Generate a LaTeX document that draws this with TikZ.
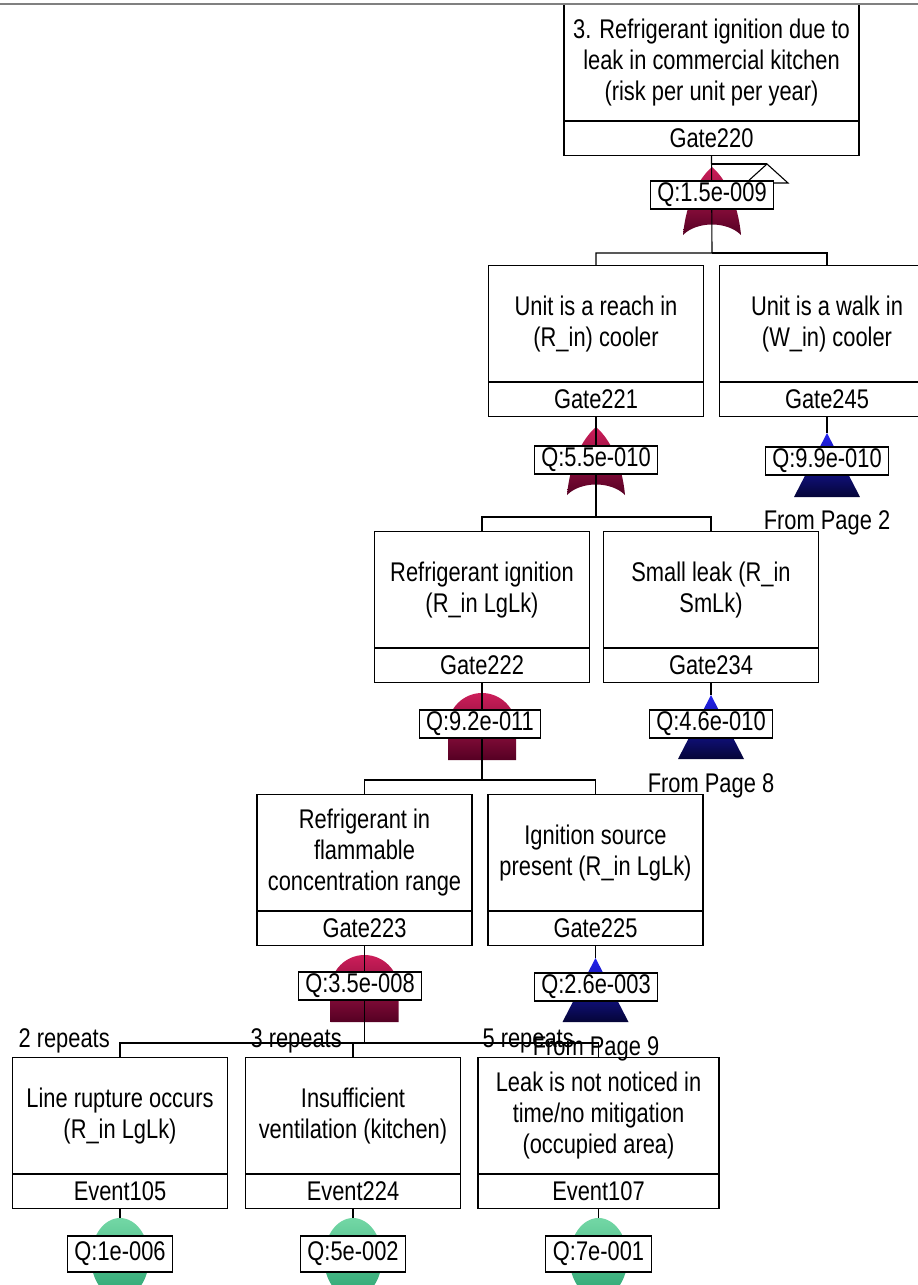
\documentclass[tikz,border=0pt]{standalone}
\usepackage{fontspec}
\setmainfont{Liberation Sans}[FakeStretch=0.81]
\usetikzlibrary{positioning}
\definecolor{gatered}{RGB}{205,30,90}
\definecolor{gatedark}{RGB}{85,0,35}
\definecolor{xferblue}{RGB}{35,35,240}
\definecolor{xferdark}{RGB}{5,5,55}
\definecolor{evtgreen}{RGB}{115,215,165}
\definecolor{evtdark}{RGB}{45,165,115}
\definecolor{rulegray}{RGB}{128,128,128}
\tikzset{
  orgate/.pic={\shade[top color=gatered, bottom color=gatedark]
    (0,0) .. controls (14,12) and (26,36) .. (29,68)
    .. controls (15,54) and (-15,54) .. (-29,68)
    .. controls (-26,36) and (-14,12) .. (0,0) -- cycle;},
  andgate/.pic={\shade[top color=gatered, bottom color=gatedark]
    (-34,67) -- (-34,34) arc[start angle=180, end angle=360, radius=34]
    -- (34,67) -- cycle;},
  xferin/.pic={\shade[top color=xferblue, bottom color=xferdark]
    (0,0) -- (33,64) -- (-33,64) -- cycle;},
  basicevt/.pic={\shade[top color=evtgreen, bottom color=evtdark]
    (0,40) ellipse[x radius=29, y radius=40];}
}
\begin{document}
\begin{tikzpicture}
  [x=1pt, y=-1pt, line width=1.1pt,
   every node/.style={font=\fontsize{27}{31}\selectfont, inner sep=0pt},
   desc/.style={draw, fill=white, align=center, anchor=north,
                minimum width=215, minimum height=116},
   tag/.style={draw, fill=white, minimum width=215, minimum height=34},
   qbox/.style={draw, fill=white, inner xsep=7pt, minimum height=28},
   evq/.style={qbox, minimum height=36}]
  \useasboundingbox (0,0) rectangle (918,1285);
  \clip (0,0) rectangle (918,1285);

  % gate and event boxes
  \node[desc, minimum width=295] (d220) at (711.5,4)
    {3. Refrigerant ignition due to\\leak in commercial kitchen\\(risk per unit per year)};
  \node[tag, minimum width=295, below=0pt of d220] (t220) {Gate220};
  \node[desc] (d221) at (596,265) {Unit is a reach in\\(R\_in) cooler};
  \node[tag, below=0pt of d221] (t221) {Gate221};
  \node[desc] (d245) at (827,265) {Unit is a walk in\\(W\_in) cooler};
  \node[tag, below=0pt of d245] (t245) {Gate245};
  \node[desc] (d222) at (482,531) {Refrigerant ignition\\(R\_in LgLk)};
  \node[tag, below=0pt of d222] (t222) {Gate222};
  \node[desc] (d234) at (711,531) {Small leak (R\_in\\SmLk)};
  \node[tag, below=0pt of d234] (t234) {Gate234};
  \node[desc] (d223) at (364.5,794) {Refrigerant in\\flammable\\concentration range};
  \node[tag, below=0pt of d223] (t223) {Gate223};
  \node[desc] (d225) at (595.5,794) {Ignition source\\present (R\_in LgLk)};
  \node[tag, below=0pt of d225] (t225) {Gate225};
  \node[desc] (e105) at (120,1057) {Line rupture occurs\\(R\_in LgLk)};
  \node[tag, below=0pt of e105] (te105) {Event105};
  \node[desc] (e224) at (353,1057) {Insufficient\\ventilation (kitchen)};
  \node[tag, below=0pt of e224] (te224) {Event224};
  \node[desc, minimum width=241] (e107) at (598.5,1057)
    {Leak is not noticed in\\time/no mitigation\\(occupied area)};
  \node[tag, minimum width=241, below=0pt of e107] (te107) {Event107};

  % gate symbols
  \pic at (712,167) {orgate};
  \pic at (596,427) {orgate};
  \pic at (482,693) {andgate};
  \pic at (364.5,955) {andgate};
  \coordinate (s245) at (827,433);
  \coordinate (s234) at (711,695);
  \coordinate (s225) at (595.5,958);
  \pic at (s245) {xferin};
  \pic at (s234) {xferin};
  \pic at (s225) {xferin};
  \coordinate (s105) at (120,1218);
  \coordinate (s224) at (353,1218);
  \coordinate (s107) at (598.5,1218);
  \pic at (s105) {basicevt};
  \pic at (s224) {basicevt};
  \pic at (s107) {basicevt};

  % transfer out
  \coordinate (x220) at (767,164);
  \draw (t220.south |- x220) -- (x220);
  \draw[fill=white] (x220) -- ++(21,19) -- ++(-42,0) -- cycle;

  % connectors
  \coordinate (j220) at (712,253);
  \coordinate (j221) at (596,517);
  \coordinate (j222) at (482,780);
  \coordinate (j223) at (364.5,1043);
  \draw (t220.south) -- (j220) -| (d221.north);
  \draw (j220) -| (d245.north);
  \draw (t221.south) -- (j221) -| (d222.north);
  \draw (j221) -| (d234.north);
  \draw (t222.south) -- (j222) -| (d223.north);
  \draw (j222) -| (d225.north);
  \draw (t223.south) -- (j223) -| (e105.north);
  \draw (j223) -| (e224.north);
  \draw (j223) -| (e107.north);
  \draw (t245.south) -- (s245);
  \draw (t234.south) -- (s234);
  \draw (t225.south) -- (s225);
  \draw (te105.south) -- (s105);
  \draw (te224.south) -- (s224);
  \draw (te107.south) -- (s107);

  % probabilities
  \node[qbox] (q220) at (712,195) {Q:1.5e-009};
  \node[qbox] (q221) at (596,460) {Q:5.5e-010};
  \node[qbox] (q245) at (827,461) {Q:9.9e-010};
  \node[qbox] (q222) at (480,724) {Q:9.2e-011};
  \node[qbox] (q234) at (711,724) {Q:4.6e-010};
  \node[qbox] (q223) at (360,986) {Q:3.5e-008};
  \node[qbox] (q225) at (596,987) {Q:2.6e-003};
  \node[evq] (qe105) at (120,1254) {Q:1e-006};
  \node[evq] (qe224) at (353,1254) {Q:5e-002};
  \node[evq] (qe107) at (598.5,1254) {Q:7e-001};

  \node[anchor=base] (p245) at (827,529) {From Page 2};
  \node[anchor=base] (p234) at (711,792) {From Page 8};
  \node[anchor=base] (p225) at (596,1055) {From Page 9};
  \node[anchor=base west] (r105) at (18,1047) {2 repeats};
  \node[anchor=base west] (r224) at (250,1047) {3 repeats};
  \node[anchor=base west] (r107) at (482,1047) {5 repeats};

  \draw[rulegray, line width=2] (0,4) -- (918,4);
\end{tikzpicture}
\end{document}
